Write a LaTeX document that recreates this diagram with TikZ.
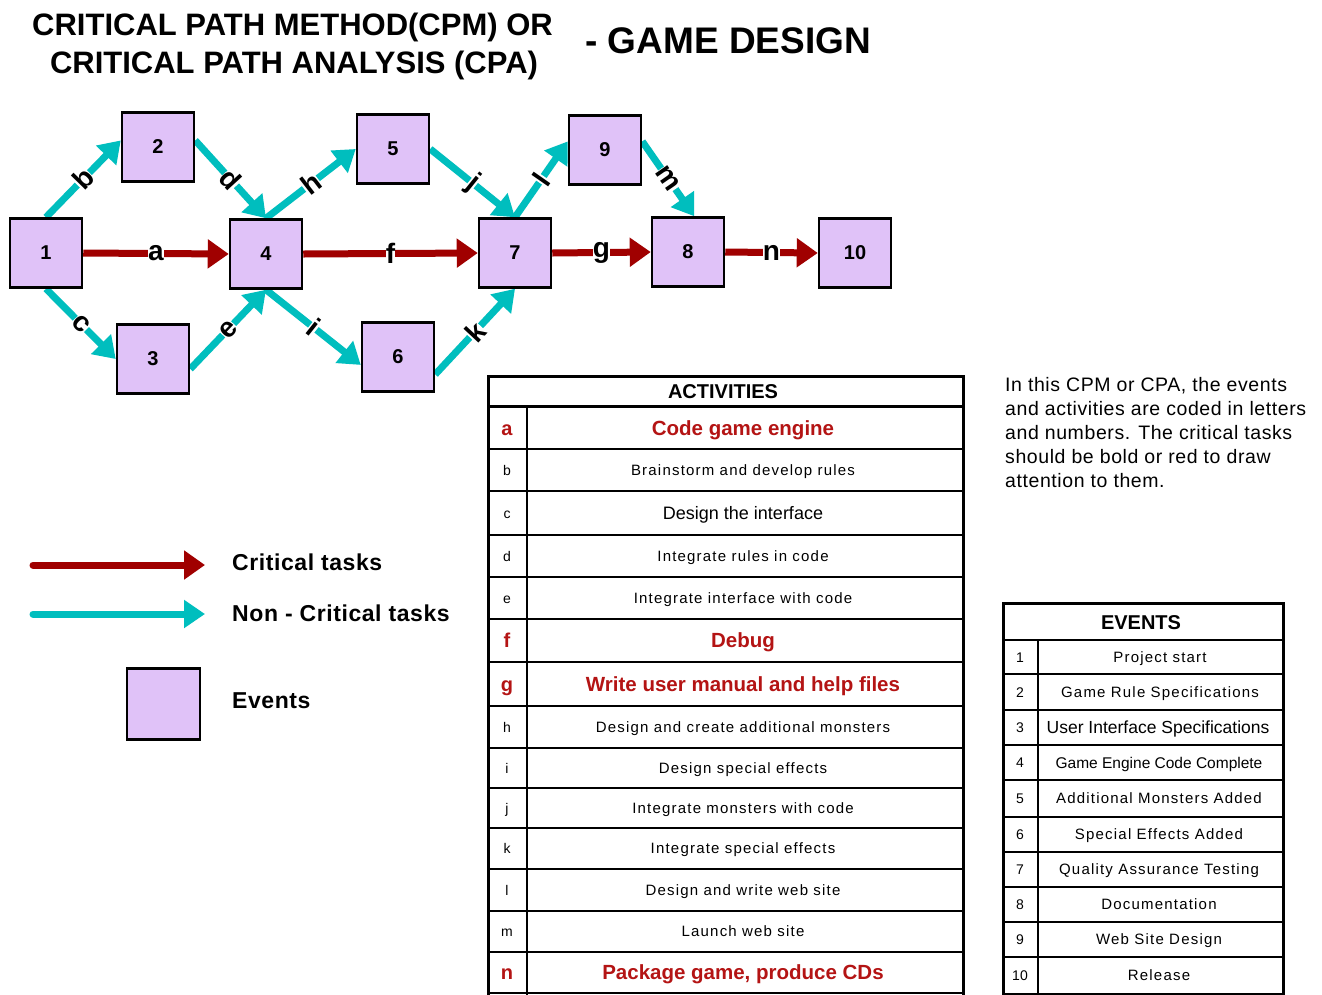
\documentclass[tikz,border=0pt]{standalone}
\usepackage{fontspec}
\setmainfont{Liberation Sans}
\newfontfamily\spc[LetterSpace=8]{Liberation Sans}
\newfontfamily\spp[LetterSpace=3]{Liberation Sans}
\newfontfamily\spl[LetterSpace=2.5]{Liberation Sans}
\usetikzlibrary{arrows.meta}
\definecolor{crit}{HTML}{A00000}
\definecolor{noncrit}{HTML}{00BEBE}
\definecolor{evfill}{HTML}{E0C2F8}
\definecolor{redtxt}{HTML}{B41414}
\pgfdeclarelayer{bg}
\pgfsetlayers{bg,main}
\begin{document}
\begin{tikzpicture}[x=1pt,y=-1pt,
  event/.style={draw=black, line width=2.5pt, fill=evfill, minimum width=72pt, minimum height=69pt, inner sep=0pt, font=\fontsize{20}{20}\selectfont\bfseries},
  critarrow/.style={draw=crit, line width=7pt, -{Triangle[length=21pt,width=28pt]}},
  ncarrow/.style={draw=noncrit, line width=7pt, -{Triangle[length=21pt,width=27pt]}},
  elabel/.style={fill=white, inner sep=0pt, font=\fontsize{28}{28}\selectfont\bfseries},
  title/.style={anchor=base, inner sep=0pt, font=\fontsize{31}{31}\selectfont\bfseries},
  legtext/.style={anchor=base west, inner sep=0pt, font=\fontsize{23}{23}\spl\bfseries},
  para/.style={anchor=base west, inner sep=0pt, font=\fontsize{19.5}{19.5}\spp},
  tline/.style={line width=2pt},
  tframe/.style={line width=3pt},
  thead/.style={inner sep=0pt, text height=14.3pt, text depth=0pt, font=\fontsize{20}{20}\selectfont\bfseries},
  tcode/.style={inner sep=0pt, text height=10pt, text depth=0pt, font=\fontsize{14}{14}\selectfont},
  tdesc/.style={inner sep=0pt, text height=10.7pt, text depth=0pt, font=\fontsize{15}{15}\spc},
  tdescn/.style={inner sep=0pt, text height=12.9pt, text depth=0pt, font=\fontsize{18}{18}\selectfont},
  rcode/.style={inner sep=0pt, text height=14.3pt, text depth=0pt, text=redtxt, font=\fontsize{20}{20}\selectfont\bfseries},
  rdesc/.style={inner sep=0pt, text height=14.6pt, text depth=0pt, text=redtxt, font=\fontsize{20.5}{20.5}\selectfont\bfseries}
]
\useasboundingbox (0,0) rectangle (1322,994);
\begin{pgfonlayer}{bg}
\fill[white] (0,0) rectangle (1322,994);
\end{pgfonlayer}

% title
\node[title] (t1) at (292.5,35) {CRITICAL PATH METHOD(CPM) OR};
\node[title] (t2) at (294,73) {CRITICAL PATH ANALYSIS (CPA)};
\node[anchor=base west, inner sep=0pt, font=\fontsize{37}{37}\selectfont\bfseries] (t3) at (585,53) {- GAME DESIGN};

% events
\node[event] (n1) at (46,253) {1};
\node[event] (n2) at (158,147) {2};
\node[event] (n3) at (153,359) {3};
\node[event] (n4) at (266,254) {4};
\node[event] (n5) at (393,149) {5};
\node[event] (n6) at (398,357) {6};
\node[event] (n7) at (515,253) {7};
\node[event] (n8) at (688,252) {8};
\node[event] (n9) at (605,150) {9};
\node[event] (n10) at (855,253) {10};

\begin{pgfonlayer}{bg}
\draw[critarrow] (n1.east) -- node[elabel]{a} (n4.west);
\draw[critarrow] (n4.east) -- node[elabel]{f} (n7.west);
\draw[critarrow] (n7.east) -- node[elabel]{g} (n8.west);
\draw[critarrow] (n8.east) -- node[elabel]{n} (n10.west);
\draw[ncarrow] (n1.north) -- node[elabel, sloped]{b} (n2.170);
\draw[ncarrow] (n1.south) -- node[elabel, sloped]{c} (n3.west);
\draw[ncarrow] (n2.10) -- node[elabel, sloped]{d} (n4.north);
\draw[ncarrow] (n3.-15) -- node[elabel, sloped]{e} (n4.south);
\draw[ncarrow] (n4.north) -- node[elabel, sloped]{h} (n5.west);
\draw[ncarrow] (n4.south) -- node[elabel, sloped]{i} (n6.-168);
\draw[ncarrow] (n5.east) -- node[elabel, sloped]{j} (n7.north);
\draw[ncarrow] (n6.-25) -- node[elabel, sloped]{k} (n7.south);
\draw[ncarrow] (n7.north) -- node[elabel, sloped]{l} (n9.167);
\draw[ncarrow] (n9.13) -- node[elabel, sloped]{m} (n8.80);
\end{pgfonlayer}

% legend
\coordinate (lc1) at (33,565);
\coordinate (lc2) at (205,565);
\coordinate (ln1) at (33,614);
\coordinate (ln2) at (205,614);
\draw[critarrow, line cap=round] (lc1) -- (lc2);
\draw[ncarrow, line cap=round] (ln1) -- (ln2);
\node[legtext] (lt1) at (232,570) {Critical tasks};
\node[legtext] (lt2) at (232,621) {Non - Critical tasks};
\node[event, minimum width=73pt, minimum height=71pt] (lev) at (163.5,704) {};
\node[legtext] (lt3) at (232,708) {Events};

% paragraph
\node[para] (p1) at (1005,391) {In this CPM or CPA, the events};
\node[para] (p2) at (1005,415) {and activities are coded in letters};
\node[para] (p3) at (1005,439) {and numbers. The critical tasks};
\node[para] (p4) at (1005,463) {should be bold or red to draw};
\node[para] (p5) at (1005,487) {attention to them.};

% activities table
\draw[tframe] (488,376) rectangle (963,998);
\draw[tframe] (488,406.5) -- (963,406.5);
\draw[tline] (527,408) -- (527,998);
\foreach \yy in {449,491,535,577,619,662,706,748,788,828,869,911,952,993}
  \draw[tline] (488,\yy) -- (963,\yy);
\node[thead] (ah) at (723,391) {ACTIVITIES};
\node[rcode] (ca) at (507,428.5) {a};
\node[rdesc] (da) at (743,428.5) {Code game engine};
\node[tcode] (cb) at (507,470) {b};
\node[tdesc] (db) at (743,470) {Brainstorm and develop rules};
\node[tcode] (cc) at (507,513) {c};
\node[tdescn] (dc) at (743,513) {Design the interface};
\node[tcode] (cd) at (507,556) {d};
\node[tdesc] (dd) at (743,556) {Integrate rules in code};
\node[tcode] (ce) at (507,598) {e};
\node[tdesc] (de) at (743,598) {Integrate interface with code};
\node[rcode] (cf) at (507,640.5) {f};
\node[rdesc] (df) at (743,640.5) {Debug};
\node[rcode] (cg) at (507,684) {g};
\node[rdesc] (dg) at (743,684) {Write user manual and help files};
\node[tcode] (ch) at (507,727) {h};
\node[tdesc] (dh) at (743,727) {Design and create additional monsters};
\node[tcode] (ci) at (507,768) {i};
\node[tdesc] (di) at (743,768) {Design special effects};
\node[tcode] (cj) at (507,808) {j};
\node[tdesc] (dj) at (743,808) {Integrate monsters with code};
\node[tcode] (ck) at (507,848.5) {k};
\node[tdesc] (dk) at (743,848.5) {Integrate special effects};
\node[tcode] (cl) at (507,890) {l};
\node[tdesc] (dl) at (743,890) {Design and write web site};
\node[tcode] (cm) at (507,931.5) {m};
\node[tdesc] (dm) at (743,931.5) {Launch web site};
\node[rcode] (cn) at (507,972.5) {n};
\node[rdesc] (dn) at (743,972.5) {Package game, produce CDs};

% events table
\draw[tframe] (1003,603) rectangle (1283,998);
\draw[tline] (1003,640) -- (1283,640);
\draw[tline] (1038,640) -- (1038,998);
\foreach \yy in {674,710,745,780,817,852,887,922,957,994}
  \draw[tline] (1003,\yy) -- (1283,\yy);
\node[thead] (eh) at (1141,622) {EVENTS};
\node[tcode] (e1c) at (1020,657) {1};
\node[tdesc] (e1) at (1160,657) {Project start};
\node[tcode] (e2c) at (1020,692) {2};
\node[tdesc] (e2) at (1160,692) {Game Rule Specifications};
\node[tcode] (e3c) at (1020,727.5) {3};
\node[tdescn, font=\fontsize{17.5}{17.5}\selectfont] (e3) at (1158,727.5) {User Interface Specifications};
\node[tcode] (e4c) at (1020,762.5) {4};
\node[tdescn, font=\fontsize{15.5}{15.5}\selectfont] (e4) at (1159,762.5) {Game Engine Code Complete};
\node[tcode] (e5c) at (1020,798.5) {5};
\node[tdesc] (e5) at (1159,798.5) {Additional Monsters Added};
\node[tcode] (e6c) at (1020,834.5) {6};
\node[tdesc] (e6) at (1159,834.5) {Special Effects Added};
\node[tcode] (e7c) at (1020,869.5) {7};
\node[tdesc] (e7) at (1159,869.5) {Quality Assurance Testing};
\node[tcode] (e8c) at (1020,904.5) {8};
\node[tdesc] (e8) at (1159,904.5) {Documentation};
\node[tcode] (e9c) at (1020,939.5) {9};
\node[tdesc] (e9) at (1159,939.5) {Web Site Design};
\node[tcode] (e10c) at (1020,975.5) {10};
\node[tdesc] (e10) at (1159,975.5) {Release};
\end{tikzpicture}
\end{document}
